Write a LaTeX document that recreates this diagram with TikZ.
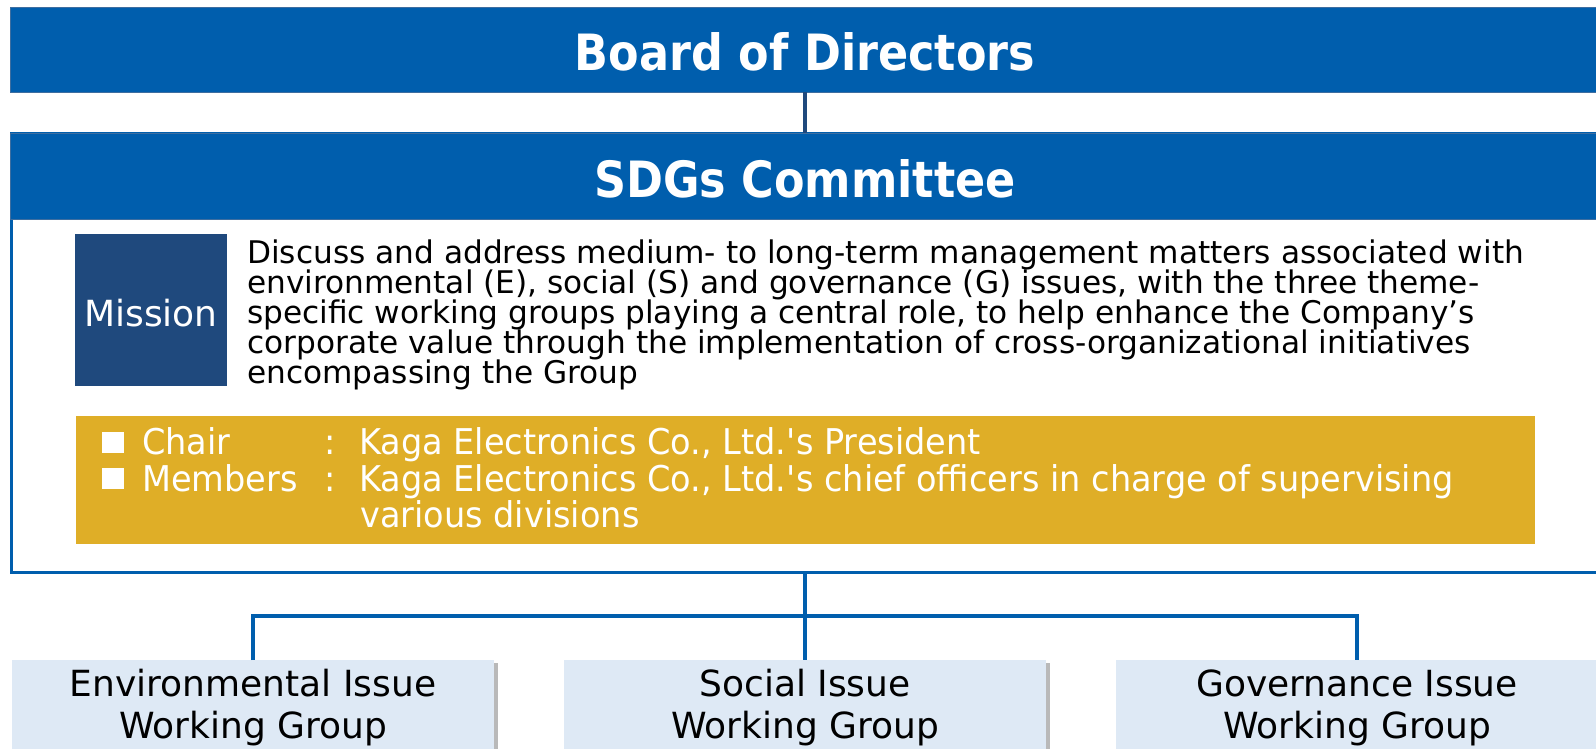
\documentclass[tikz,border=0pt]{standalone}
\usepackage{fontspec}
\setmainfont{DejaVu Sans}
\newfontfamily\hdfont[FakeStretch=0.89]{DejaVu Sans}
\newfontfamily\gdfont[FakeStretch=0.945]{DejaVu Sans}
\usetikzlibrary{shadows}
\definecolor{bluemain}{RGB}{0,94,173}
\definecolor{blueedge}{RGB}{62,110,160}
\definecolor{navy}{RGB}{31,73,125}
\definecolor{goldbox}{RGB}{223,174,39}
\definecolor{palebox}{RGB}{222,233,245}
\begin{document}
\begin{tikzpicture}[x=1pt,y=-1pt,
  header/.style={fill=bluemain,draw=blueedge,line width=1pt,inner sep=0pt,outer sep=0pt,anchor=north west},
  headtext/.style={anchor=base,inner sep=0pt,text=white,font=\hdfont\bfseries\fontsize{50}{60}\selectfont},
  dtext/.style={anchor=base west,inner sep=0pt,text=black,font=\fontsize{31.2}{30}\selectfont},
  gtext/.style={anchor=base west,inner sep=0pt,text=white,font=\gdfont\fontsize{35.5}{36}\selectfont},
  wgbox/.style={fill=palebox,inner sep=0pt,outer sep=0pt,anchor=north,minimum width=482pt,minimum height=110pt,
    drop shadow={shadow xshift=4pt,shadow yshift=-3pt,fill=black!50,opacity=0.55}},
  wgtext/.style={anchor=base,inner sep=0pt,text=black,font=\fontsize{36}{43}\selectfont},
  conn/.style={draw=bluemain,line width=3.5pt},
  bulletsq/.style={fill=white,inner sep=0pt,minimum width=22pt,minimum height=21pt}
]
\useasboundingbox (0,0) rectangle (1596,748);

% Board of Directors
\node[header,minimum width=1590pt,minimum height=85pt] (board) at (10,7.3) {};
\node[headtext] (boardt) at (805,70) {Board of Directors};

% SDGs Committee frame and header
\node[draw=bluemain,line width=3.5pt,fill=white,inner sep=0pt,outer sep=0pt,anchor=north west,
      minimum width=1586.6pt,minimum height=438.5pt] (frame) at (11.7,134) {};
\node[header,minimum width=1590pt,minimum height=86pt] (sdg) at (10,133.3) {};
\node[headtext] (sdgt) at (805,197) {SDGs Committee};

% Mission
\node[fill=navy,inner sep=0pt,outer sep=0pt,anchor=north west,minimum width=152pt,minimum height=152pt] (mission) at (75,234) {};
\node[anchor=base,inner sep=0pt,text=white,font=\fontsize{36}{40}\selectfont] (missiont) at (151,326) {Mission};

\node[dtext] (d1) at (247,263) {Discuss and address medium- to long-term management matters associated with};
\node[dtext] (d2) at (247,293) {environmental (E), social (S) and governance (G) issues, with the three theme-};
\node[dtext] (d3) at (247,323) {specific working groups playing a central role, to help enhance the Company’s};
\node[dtext] (d4) at (247,353) {corporate value through the implementation of cross-organizational initiatives};
\node[dtext] (d5) at (247,383) {encompassing the Group};

% Gold box
\node[fill=goldbox,inner sep=0pt,outer sep=0pt,anchor=north west,minimum width=1459pt,minimum height=128pt] (gold) at (76,416) {};
\node[bulletsq] (b1) at (113,442.5) {};
\node[bulletsq] (b2) at (113,478.5) {};
\node[gtext] (g1a) at (142,454) {Chair};
\node[gtext] (g1b) at (324,454) {:};
\node[gtext] (g1c) at (359,454) {Kaga Electronics Co., Ltd.\textquotesingle s President};
\node[gtext] (g2a) at (142,491) {Members};
\node[gtext] (g2b) at (324,491) {:};
\node[gtext] (g2c) at (359,491) {Kaga Electronics Co., Ltd.\textquotesingle s chief officers in charge of supervising};
\node[gtext] (g3c) at (360,527) {various divisions};

% Working groups
\node[wgbox] (env) at (253,660) {};
\node[wgbox] (soc) at (805,660) {};
\node[wgbox] (gov) at (1357,660) {};
\node[wgtext] (envt1) at (253,696) {Environmental Issue};
\node[wgtext] (envt2) at (253,738) {Working Group};
\node[wgtext] (soct1) at (805,696) {Social Issue};
\node[wgtext] (soct2) at (805,738) {Working Group};
\node[wgtext] (govt1) at (1357,696) {Governance Issue};
\node[wgtext] (govt2) at (1357,738) {Working Group};

% Connectors
\draw[draw=navy,line width=3.5pt] (board.south) -- (sdg.north);
\coordinate (hbar) at (805,616);
\draw[conn] (frame.south) -- (soc.north);
\draw[conn] (env.north) |- (hbar) -| (gov.north);
\end{tikzpicture}
\end{document}
